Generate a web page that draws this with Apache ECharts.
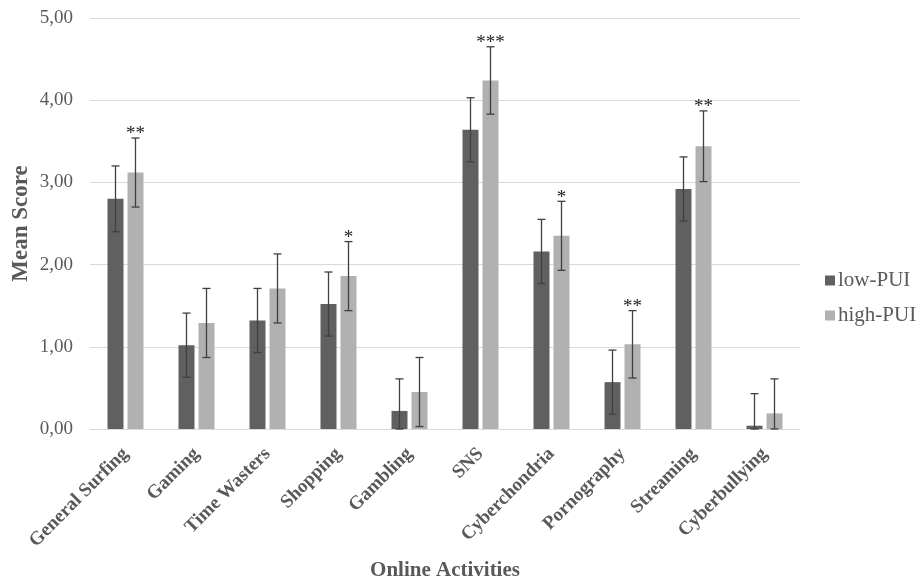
<!DOCTYPE html>
<html>
<head>
<meta charset="utf-8">
<title>Online Activities by PUI group</title>
<script src="https://cdn.jsdelivr.net/npm/echarts@6/dist/echarts.min.js"></script>
<style>
  html, body { margin: 0; padding: 0; background: #ffffff; }
  #chart { width: 919px; height: 581px; }
</style>
</head>
<body>
<div id="chart"></div>
<script>
// Mean scores per online activity, split by problematic internet use group
const categories = ['General Surfing', 'Gaming', 'Time Wasters', 'Shopping', 'Gambling',
  'SNS', 'Cyberchondria', 'Pornography', 'Streaming', 'Cyberbullying'];
const lowPUI = [2.80, 1.02, 1.32, 1.52, 0.22, 3.64, 2.16, 0.57, 2.92, 0.04];
const highPUI = [3.12, 1.29, 1.71, 1.86, 0.45, 4.24, 2.35, 1.03, 3.44, 0.19];
// Error bar half-widths
const lowErr = [0.40, 0.39, 0.39, 0.39, 0.39, 0.39, 0.39, 0.39, 0.39, 0.39];
const highErr = [0.42, 0.42, 0.42, 0.42, 0.42, 0.41, 0.42, 0.41, 0.43, 0.42];
// Significance of the group difference
const sigMarks = ['**', '', '', '*', '', '***', '*', '**', '**', ''];
const yTicks = [0, 1, 2, 3, 4, 5];

const DARK = '#606060';
const LIGHT = '#b1b1b1';
const ERR = '#404040';
const TEXT = '#595959';
const SERIF = '"Liberation Serif", "Times New Roman", serif';
const BAR_W = 16;
const BAR_GAP = 4;
const OFFSET = (BAR_W + BAR_GAP) / 2;

function errorSeries(name, means, errs, dir, marks) {
  const data = means.map((m, i) => [i, m, errs[i], marks ? marks[i] : '']);
  return {
    name: name,
    type: 'custom',
    z: 5,
    silent: true,
    data: data,
    encode: { x: 0, y: 1 },
    renderItem: function (params, api) {
      const i = api.value(0);
      const m = api.value(1);
      const e = api.value(2);
      const top = api.coord([i, m + e]);
      const bot = api.coord([i, Math.max(0, m - e)]);
      const x = top[0] + dir * OFFSET;
      const cap = 4;
      const style = { stroke: ERR, lineWidth: 1.3 };
      const children = [
        { type: 'line', shape: { x1: x, y1: top[1], x2: x, y2: bot[1] }, style: style },
        { type: 'line', shape: { x1: x - cap, y1: top[1], x2: x + cap, y2: top[1] }, style: style },
        { type: 'line', shape: { x1: x - cap, y1: bot[1], x2: x + cap, y2: bot[1] }, style: style }
      ];
      const mark = data[params.dataIndex][3];
      if (mark) {
        children.push({
          type: 'text',
          style: {
            text: mark, x: x, y: top[1] + 6,
            align: 'center', verticalAlign: 'bottom',
            fill: '#222222', font: '19px ' + SERIF
          }
        });
      }
      return { type: 'group', children: children };
    }
  };
}

const chart = echarts.init(document.getElementById('chart'), null, { renderer: 'canvas' });
chart.setOption({
  backgroundColor: '#ffffff',
  animation: false,
  grid: {
    left: 90, right: 119, top: 18, bottom: 152,
    containLabel: false,
    outerBoundsMode: 'none'
  },
  legend: {
    data: ['low-PUI', 'high-PUI'],
    orient: 'vertical',
    left: 820,
    top: 265,
    icon: 'rect',
    itemWidth: 10,
    itemHeight: 10,
    itemGap: 14,
    textStyle: { fontFamily: SERIF, fontSize: 21, color: TEXT, padding: [0, 0, 0, -2] }
  },
  xAxis: {
    type: 'category',
    data: categories,
    name: 'Online Activities',
    nameLocation: 'middle',
    nameGap: 131,
    nameMoveOverlap: false,
    nameTextStyle: { fontFamily: SERIF, fontSize: 21, fontWeight: 'bold', color: TEXT },
    axisLine: { lineStyle: { color: '#d9d9d9', width: 1 } },
    axisTick: { show: false },
    axisLabel: {
      rotate: 45,
      margin: 22,
      interval: 0,
      fontFamily: SERIF, fontSize: 19, fontWeight: 'bold', color: TEXT
    }
  },
  yAxis: {
    type: 'value',
    min: yTicks[0],
    max: yTicks[yTicks.length - 1],
    interval: 1,
    name: 'Mean Score',
    nameLocation: 'middle',
    nameGap: 57,
    nameMoveOverlap: false,
    nameTextStyle: { fontFamily: SERIF, fontSize: 23, fontWeight: 'bold', color: TEXT },
    axisLine: { show: false },
    axisTick: { show: false },
    splitLine: { lineStyle: { color: '#d9d9d9', width: 1 } },
    axisLabel: {
      margin: 17,
      fontFamily: SERIF, fontSize: 19, color: TEXT,
      formatter: v => v.toFixed(2).replace('.', ',')
    }
  },
  series: [
    {
      name: 'low-PUI', type: 'bar', data: lowPUI,
      barWidth: BAR_W, barGap: (BAR_GAP / BAR_W * 100) + '%',
      itemStyle: { color: DARK }
    },
    {
      name: 'high-PUI', type: 'bar', data: highPUI,
      barWidth: BAR_W,
      itemStyle: { color: LIGHT }
    },
    errorSeries('lowErr', lowPUI, lowErr, -1, null),
    errorSeries('highErr', highPUI, highErr, 1, sigMarks)
  ]
});
</script>
</body>
</html>
